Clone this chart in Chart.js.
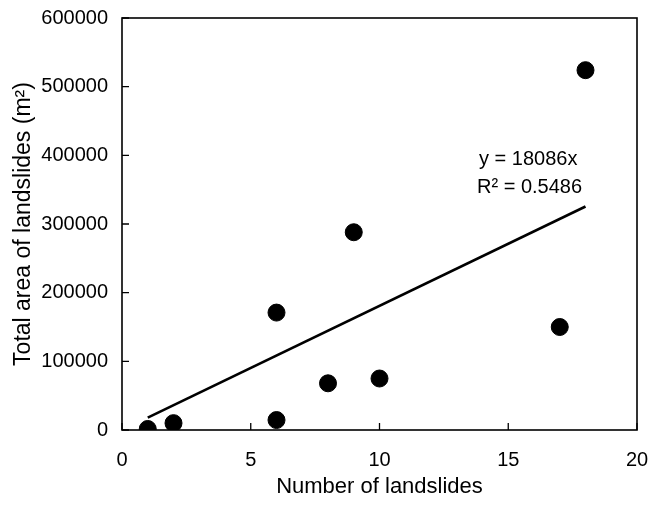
<!DOCTYPE html>
<html>
<head>
<meta charset="utf-8">
<script src="https://cdn.jsdelivr.net/npm/chart.js@4"></script>
<style>
  html, body { margin: 0; padding: 0; background: #fff; }
  #wrap { width: 653px; height: 505px; position: relative; }
</style>
</head>
<body>
<div id="wrap"><canvas id="c"></canvas></div>
<script>
// Data
const landslideCounts = [1, 2, 6, 6, 8, 9, 10, 17, 18];
const landslideAreas  = [1500, 10000, 14500, 171000, 68000, 288000, 75000, 150000, 524000];
const trendSlope = 18086;
const trendRange = [1, 18];
const equationLines = ['y = 18086x', 'R\u00B2 = 0.5486'];
const xTicks = [0, 5, 10, 15, 20];
const yTicks = [0, 100000, 200000, 300000, 400000, 500000, 600000];

const FONT = '"Liberation Sans", Arial, Helvetica, sans-serif';

const points = landslideCounts.map((x, i) => ({ x: x, y: landslideAreas[i] }));
const trend = trendRange.map(x => ({ x: x, y: trendSlope * x }));

function noScalePadding(s) {
  s.paddingLeft = 0; s.paddingRight = 0; s.paddingTop = 0; s.paddingBottom = 0;
}

const framePlugin = {
  id: 'frame',
  afterDraw(chart) {
    const { ctx, chartArea: a, scales } = chart;
    ctx.save();
    ctx.strokeStyle = '#000';
    ctx.lineWidth = 1.6;
    ctx.strokeRect(a.left, a.top, a.right - a.left, a.bottom - a.top);
    // inward ticks
    ctx.lineWidth = 1.3;
    ctx.beginPath();
    xTicks.forEach(v => {
      const px = scales.x.getPixelForValue(v);
      ctx.moveTo(px, a.bottom);
      ctx.lineTo(px, a.bottom - 7);
    });
    yTicks.forEach(v => {
      const py = scales.y.getPixelForValue(v);
      ctx.moveTo(a.left, py);
      ctx.lineTo(a.left + 7, py);
    });
    ctx.stroke();
    // equation text
    ctx.fillStyle = '#000';
    ctx.font = '20px ' + FONT;
    ctx.textAlign = 'left';
    ctx.textBaseline = 'alphabetic';
    ctx.fillText(equationLines[0], 479, 165);
    ctx.fillText(equationLines[1], 477, 193);
    ctx.restore();
  }
};

new Chart(document.getElementById('c'), {
  type: 'scatter',
  data: {
    datasets: [
      {
        label: 'Landslides',
        data: points,
        backgroundColor: '#000',
        borderColor: '#000',
        pointRadius: 8.5,
        pointHoverRadius: 8.5,
        order: 1
      },
      {
        label: 'Trend',
        type: 'line',
        data: trend,
        borderColor: '#000',
        borderWidth: 2.6,
        pointRadius: 0,
        fill: false,
        order: 2
      }
    ]
  },
  options: {
    responsive: true,
    maintainAspectRatio: false,
    animation: false,
    events: [],
    layout: { padding: { left: 0, top: 18, right: 16, bottom: 0 } },
    plugins: { legend: { display: false }, tooltip: { enabled: false } },
    scales: {
      x: {
        type: 'linear',
        min: 0, max: 20,
        afterBuildTicks(s) { s.ticks = xTicks.map(v => ({ value: v })); },
        afterFit(s) { s.height = 75; noScalePadding(s); },
        grid: { display: false, drawTicks: false },
        border: { display: false },
        ticks: { color: '#000', font: { family: FONT, size: 20 }, padding: 18, maxRotation: 0,
                 callback: v => String(v) },
        title: { display: true, text: 'Number of landslides', color: '#000',
                 font: { family: FONT, size: 22 }, padding: { top: 0, bottom: 5 } }
      },
      y: {
        type: 'linear',
        min: 0, max: 600000,
        afterBuildTicks(s) { s.ticks = yTicks.map(v => ({ value: v })); },
        afterFit(s) { s.width = 122; noScalePadding(s); },
        grid: { display: false, drawTicks: false },
        border: { display: false },
        ticks: { color: '#000', font: { family: FONT, size: 20 }, padding: 14,
                 callback: v => String(v) },
        title: { display: true, text: 'Total area of landslides (m\u00B2)', color: '#000',
                 font: { family: FONT, size: 23 }, padding: { top: 10, bottom: 0 } }
      }
    }
  },
  plugins: [framePlugin]
});
</script>
</body>
</html>
